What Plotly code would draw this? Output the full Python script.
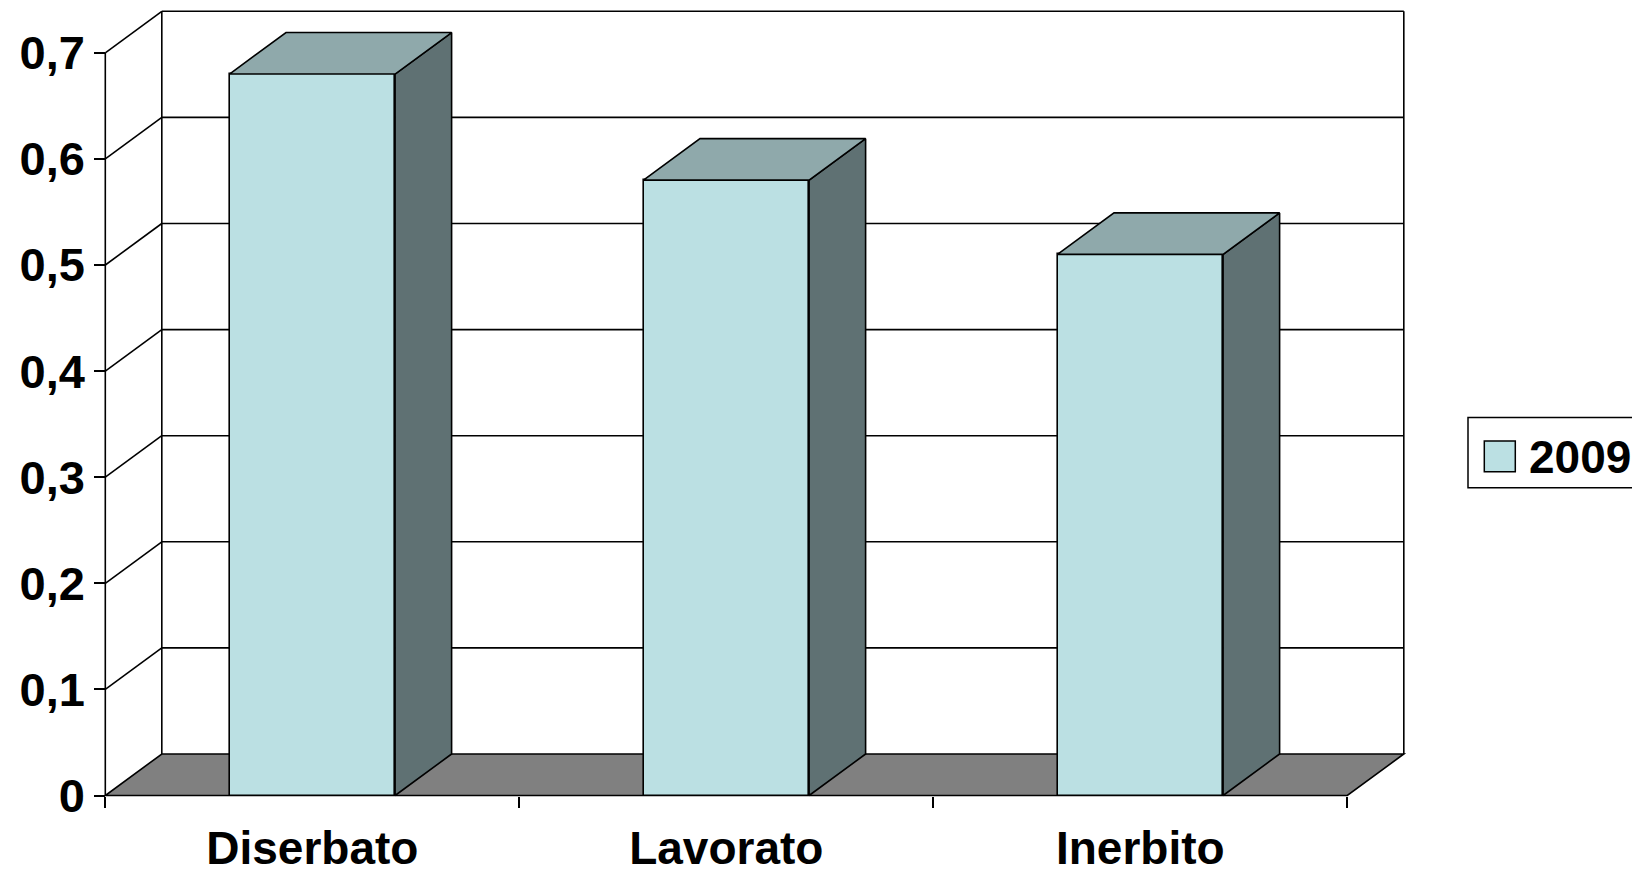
import plotly.graph_objects as go

# ---- data -------------------------------------------------------------
categories = ["Diserbato", "Lavorato", "Inerbito"]
values_2009 = [0.68, 0.58, 0.51]
series_name = "2009"
y_ticks = [0, 0.1, 0.2, 0.3, 0.4, 0.5, 0.6, 0.7]
y_tick_labels = ["0", "0,1", "0,2", "0,3", "0,4", "0,5", "0,6", "0,7"]

# ---- style / projection ----------------------------------------------
DX = 0.1365          # depth offset along x (category units)
DY = 0.0391          # depth offset along y (value units)
BAR_W = 0.4          # front face width as share of a category slot
FRONT = "#BBE0E3"
TOP = "#8FA9AB"
SIDE = "#5F7173"
FLOOR = "#808080"
LINE = "black"
LW = 1.6
FONT = "Liberation Sans, Arial, sans-serif"

W, H = 1632, 873
ML, MR, MT, MB = 80, 200, 4, 66
PX_X, PX_Y = 414.0, 1061.0      # pixels per axis unit
ORIGIN_PX = (105.3, 795.5)      # pixel position of the front origin

xmin = (ML - ORIGIN_PX[0]) / PX_X
xmax = (W - MR - ORIGIN_PX[0]) / PX_X
ymin = -((H - MB) - ORIGIN_PX[1]) / PX_Y
ymax = (ORIGIN_PX[1] - MT) / PX_Y

n = len(categories)
centers = [i + 0.5 for i in range(n)]
y_top = y_ticks[-1]


def poly_path(pts):
    return "M " + " L ".join(f"{x},{y}" for x, y in pts) + " Z"


shapes = []
# floor
shapes.append(dict(
    type="path", xref="x", yref="y", layer="below",
    path=poly_path([(0, 0), (n, 0), (n + DX, DY), (DX, DY)]),
    fillcolor=FLOOR, line=dict(color=LINE, width=LW),
))
# back wall verticals
for xb in (DX, n + DX):
    shapes.append(dict(type="line", xref="x", yref="y", layer="below",
                       x0=xb, y0=DY, x1=xb, y1=y_top + DY,
                       line=dict(color=LINE, width=LW)))
# gridlines: diagonal on the side wall + horizontal on the back wall
for v in y_ticks[1:]:
    shapes.append(dict(type="line", xref="x", yref="y", layer="below",
                       x0=0, y0=v, x1=DX, y1=v + DY,
                       line=dict(color=LINE, width=LW)))
    shapes.append(dict(type="line", xref="x", yref="y", layer="below",
                       x0=DX, y0=v + DY, x1=n + DX, y1=v + DY,
                       line=dict(color=LINE, width=LW)))
# front value axis line
shapes.append(dict(type="line", xref="x", yref="y", layer="below",
                   x0=0, y0=0, x1=0, y1=y_top,
                   line=dict(color=LINE, width=LW)))

fig = go.Figure()

# front faces of the bars
fig.add_trace(go.Bar(
    x=centers, y=values_2009, width=BAR_W, name=series_name,
    marker=dict(color=FRONT, line=dict(color=LINE, width=LW)),
    showlegend=False, hoverinfo="skip",
))

# top and side faces
for c, v in zip(centers, values_2009):
    xl, xr = c - BAR_W / 2, c + BAR_W / 2
    top = [(xl, v), (xr, v), (xr + DX, v + DY), (xl + DX, v + DY), (xl, v)]
    side = [(xr, 0), (xr + DX, DY), (xr + DX, v + DY), (xr, v), (xr, 0)]
    for pts, col in ((side, SIDE), (top, TOP)):
        fig.add_trace(go.Scatter(
            x=[p[0] for p in pts], y=[p[1] for p in pts],
            mode="lines", fill="toself", fillcolor=col,
            line=dict(color=LINE, width=LW),
            showlegend=False, hoverinfo="skip",
        ))

# legend box drawn by hand so the swatch can be large
def px_to_paper_x(px):
    return (px - ML) / (W - ML - MR)


def px_to_paper_y(py):
    return ((H - MB) - py) / (H - MT - MB)


shapes.append(dict(type="rect", xref="paper", yref="paper",
                   x0=px_to_paper_x(1468), x1=px_to_paper_x(1645),
                   y0=px_to_paper_y(487.7), y1=px_to_paper_y(417.5),
                   fillcolor="white", line=dict(color=LINE, width=1.5)))
shapes.append(dict(type="rect", xref="paper", yref="paper",
                   x0=px_to_paper_x(1484.3), x1=px_to_paper_x(1515.3),
                   y0=px_to_paper_y(471.7), y1=px_to_paper_y(441),
                   fillcolor=FRONT, line=dict(color=LINE, width=1.5)))

annotations = [dict(
    xref="paper", yref="paper",
    x=px_to_paper_x(1527), y=px_to_paper_y(457),
    xanchor="left", yanchor="middle", showarrow=False,
    text=series_name,
    font=dict(family=FONT, size=46, color="black", weight="bold"),
)]

fig.update_layout(
    width=W, height=H, autosize=False,
    margin=dict(l=ML, r=MR, t=MT, b=MB, pad=0, autoexpand=False),
    paper_bgcolor="white", plot_bgcolor="white",
    shapes=shapes, annotations=annotations,
    showlegend=False, bargap=0,
    xaxis=dict(
        range=[xmin, xmax], showgrid=False, zeroline=False, showline=False,
        tickmode="array", tickvals=centers, ticktext=categories, ticks="",
        tickfont=dict(family=FONT, size=46, color="black", weight="bold"),
        ticklabelstandoff=21, automargin=False,
        minor=dict(tickmode="array", tickvals=list(range(n + 1)),
                   ticks="outside", ticklen=11, tickwidth=LW,
                   tickcolor=LINE, showgrid=False),
        anchor="free", position=(0 - ymin) / (ymax - ymin),
        fixedrange=True,
    ),
    yaxis=dict(
        range=[ymin, ymax], showgrid=False, zeroline=False, showline=False,
        tickmode="array", tickvals=y_ticks, ticktext=y_tick_labels,
        ticks="outside", ticklen=11, tickwidth=LW, tickcolor=LINE,
        tickfont=dict(family=FONT, size=47, color="black", weight="bold"),
        automargin=False,
        anchor="free", position=(0 - xmin) / (xmax - xmin),
        fixedrange=True,
    ),
)

fig.write_html("out.html")
